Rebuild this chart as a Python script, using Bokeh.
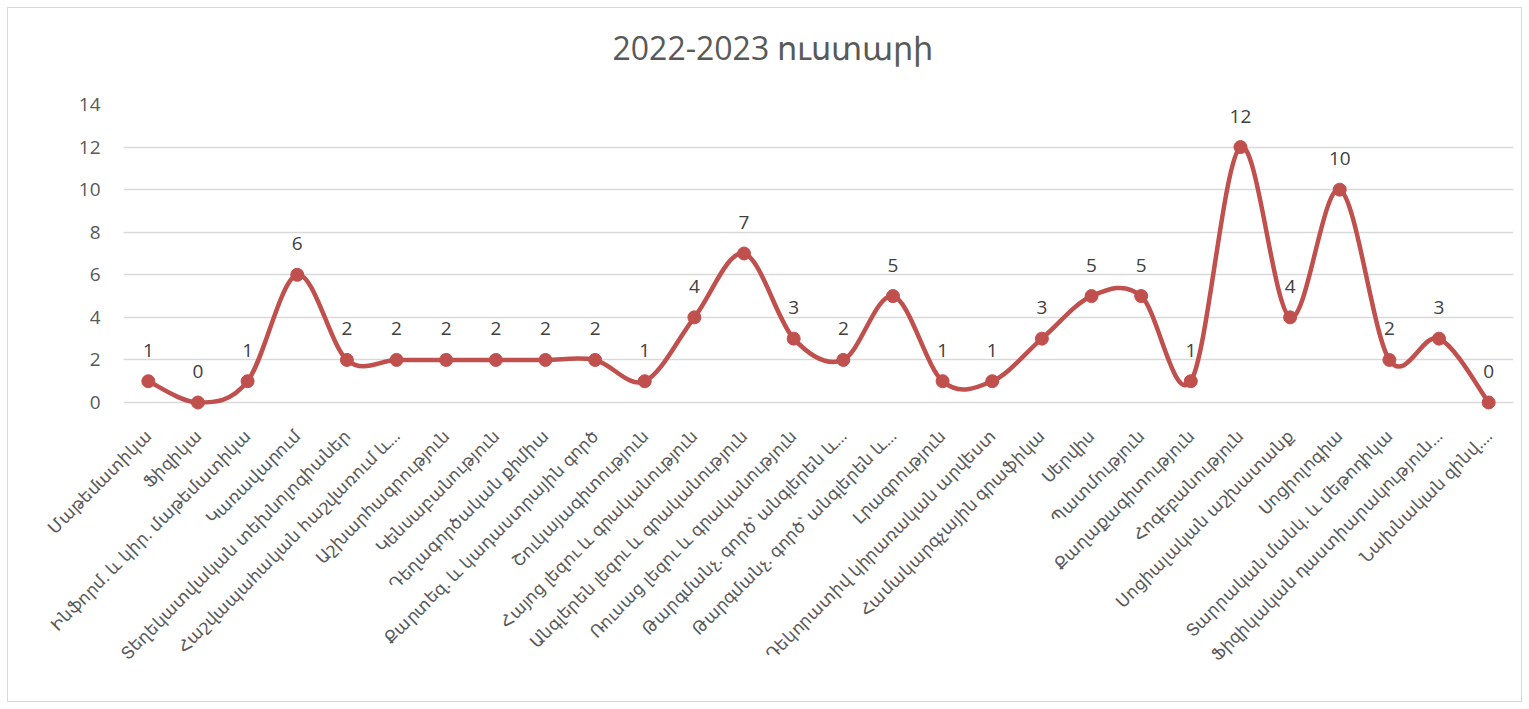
import math
from bokeh.plotting import figure
from bokeh.models import ColumnDataSource, FixedTicker, Range1d, Div
from bokeh.layouts import column
from bokeh.core.properties import value
from bokeh.embed import file_html
from bokeh.resources import INLINE

title_text = "2022-2023 ուստարի"

categories = [
    "Մաթեմատիկա",
    "Ֆիզիկա",
    "Ինֆորմ. և կիր. մաթեմատիկա",
    "Կառավարում",
    "Տեղեկատվական տեխնոլոգիաներ",
    "Հաշվապահական հաշվառում և…",
    "Աշխարհագրություն",
    "Կենսաբանություն",
    "Դեղագործական քիմիա",
    "Քարտեզ. և կադաստրային գործ",
    "Շուկայագիտություն",
    "Հայոց լեզու և գրականություն",
    "Անգլերեն լեզու և գրականություն",
    "Ռուսաց լեզու և գրականություն",
    "Թարգմանչ. գործ՝ անգլերեն և…",
    "Թարգմանչ. գործ՝ անգլերեն և…",
    "Լրագրություն",
    "Դեկորատիվ կիրառական արվեստ",
    "Համակարգչային գրաֆիկա",
    "Սերվիս",
    "Պատմություն",
    "Քաղաքագիտություն",
    "Հոգեբանություն",
    "Սոցիալական աշխատանք",
    "Սոցիոլոգիա",
    "Տարրական մանկ. և մեթոդիկա",
    "Ֆիզիկական դաստիարակություն…",
    "Նախնական զինվ.…",
]

values = [1, 0, 1, 6, 2, 2, 2, 2, 2, 2, 1, 4, 7, 3, 2, 5, 1, 1, 3, 5, 5, 1, 12, 4, 10, 2, 3, 0]

y_ticks = [0, 2, 4, 6, 8, 10, 12, 14]

LINE = "#C0504D"
FONT = "Open Sans"

xs = list(range(len(values)))

# smoothed line segments (Catmull-Rom style bezier, like a spreadsheet "smoothed line")
n = len(values)
seg = dict(x0=[], y0=[], x1=[], y1=[], cx0=[], cy0=[], cx1=[], cy1=[])
for i in range(n - 1):
    p0 = (xs[max(i - 1, 0)], values[max(i - 1, 0)])
    p1 = (xs[i], values[i])
    p2 = (xs[i + 1], values[i + 1])
    p3 = (xs[min(i + 2, n - 1)], values[min(i + 2, n - 1)])
    seg["x0"].append(p1[0]); seg["y0"].append(p1[1])
    seg["x1"].append(p2[0]); seg["y1"].append(p2[1])
    seg["cx0"].append(p1[0] + (p2[0] - p0[0]) / 6.0)
    seg["cy0"].append(p1[1] + (p2[1] - p0[1]) / 6.0)
    seg["cx1"].append(p2[0] - (p3[0] - p1[0]) / 6.0)
    seg["cy1"].append(p2[1] - (p3[1] - p1[1]) / 6.0)

TITLE_H = 84

title_div = Div(
    text=title_text, width=1513, height=TITLE_H, margin=0,
    styles={
        "font-family": FONT, "font-size": "32px", "color": "#595959",
        "text-align": "center", "line-height": "80px",
        "padding-left": "17px", "box-sizing": "border-box",
        "background": "white",
    },
)

p = figure(
    width=1513, height=693 - TITLE_H,
    x_range=Range1d(-0.5, len(values) - 0.5),
    y_range=Range1d(-0.47, 14),
    output_backend="svg", toolbar_location=None,
    min_border_left=115, min_border_right=8, min_border_top=96 - TITLE_H, min_border_bottom=289,
)
p.outline_line_color = None
p.background_fill_color = "white"
p.border_fill_color = "white"

# axes
p.yaxis.ticker = FixedTicker(ticks=y_ticks)
p.yaxis.axis_line_color = None
p.yaxis.major_tick_line_color = None
p.yaxis.minor_tick_line_color = None
p.yaxis.major_label_text_font = FONT
p.yaxis.major_label_text_font_size = "19px"
p.yaxis.major_label_text_color = "#595959"
p.yaxis.major_label_standoff = 17

p.xaxis.ticker = FixedTicker(ticks=xs)
p.xaxis.major_label_overrides = {i: c for i, c in enumerate(categories)}
p.xaxis.major_label_orientation = math.pi / 4
p.xaxis.axis_line_color = None
p.xaxis.major_tick_line_color = None
p.xaxis.minor_tick_line_color = None
p.xaxis.major_label_text_font = FONT
p.xaxis.major_label_text_font_size = "17px"
p.xaxis.major_label_text_color = "#595959"
p.xaxis.major_label_standoff = 14

p.xgrid.grid_line_color = None
p.ygrid.ticker = FixedTicker(ticks=y_ticks)
p.ygrid.grid_line_color = "#D9D9D9"
p.ygrid.grid_line_width = 1.5

p.bezier(x0="x0", y0="y0", x1="x1", y1="y1", cx0="cx0", cy0="cy0", cx1="cx1", cy1="cy1",
         source=ColumnDataSource(seg), line_color=LINE, line_width=4.5, line_cap="round")

src = ColumnDataSource(dict(x=xs, y=values, lab=[str(v) for v in values]))
p.scatter(x="x", y="y", source=src, size=13, fill_color=LINE, line_color=LINE)
p.text(x="x", y="y", text="lab", source=src, y_offset=-31,
       text_align="center", text_baseline="middle",
       text_font=value(FONT), text_font_size="19px", text_color="#404040")

layout = column(title_div, p, spacing=0)
layout.styles = {"border": "1px solid #D9D9D9", "margin-left": "7px", "margin-top": "7px",
                 "background": "white"}

open("out.html", "w").write(file_html(layout, INLINE))
